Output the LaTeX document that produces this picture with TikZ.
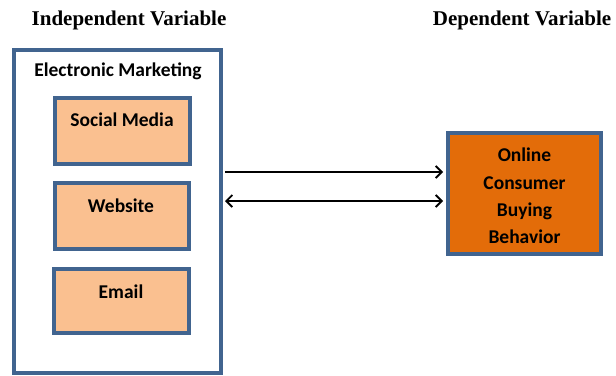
\documentclass[tikz,border=0pt]{standalone}
\usepackage{fontspec}
\setmainfont{Liberation Serif}
\newfontfamily\calfont{Carlito}
\usetikzlibrary{arrows.meta}
\definecolor{frame}{HTML}{41648F}
\definecolor{peach}{HTML}{FAC090}
\definecolor{dorange}{HTML}{E36C09}
\tikzset{
  title/.style={font=\fontsize{21}{24}\selectfont\bfseries, inner sep=0pt},
  lbl/.style={font=\calfont\fontsize{19.5}{27.3}\selectfont\bfseries, inner sep=0pt, align=center},
  subbox/.style={draw=frame, line width=3.4pt, fill=peach},
  conn/.style={line width=1.8pt, -{Straight Barb[length=6pt,width=12pt]}},
}
\begin{document}
\begin{tikzpicture}[x=1pt,y=-1pt]
\useasboundingbox (0,0) rectangle (616,375);
\node[title] (iv) at (129,20) {Independent Variable};
\node[title] (dv) at (522,20) {Dependent Variable};
\draw[draw=frame, line width=3.4pt, fill=white] (14,50) rectangle (221,373);
\node[lbl] (em) at (118,71) {Electronic Marketing};
\draw[subbox] (55,98) rectangle (190,164);
\node[lbl] (sm) at (122,120) {Social Media};
\draw[subbox] (55,183) rectangle (189,249);
\node[lbl] (ws) at (121,206) {Website};
\draw[subbox] (54,269) rectangle (189,333);
\node[lbl] (ml) at (121,292) {Email};
\draw[draw=frame, line width=3.4pt, fill=dorange] (448,133) rectangle (601,254);
\node[lbl] (ob) at (524.5,196) {Online\\Consumer\\Buying\\Behavior};
\coordinate (a1s) at (225,172);
\coordinate (a1e) at (443,172);
\coordinate (a2s) at (225,201);
\coordinate (a2e) at (443,201);
\draw[conn] (a1s) -- (a1e);
\draw[conn, {Straight Barb[length=6pt,width=12pt]}-{Straight Barb[length=6pt,width=12pt]}] (a2s) -- (a2e);
\end{tikzpicture}
\end{document}
